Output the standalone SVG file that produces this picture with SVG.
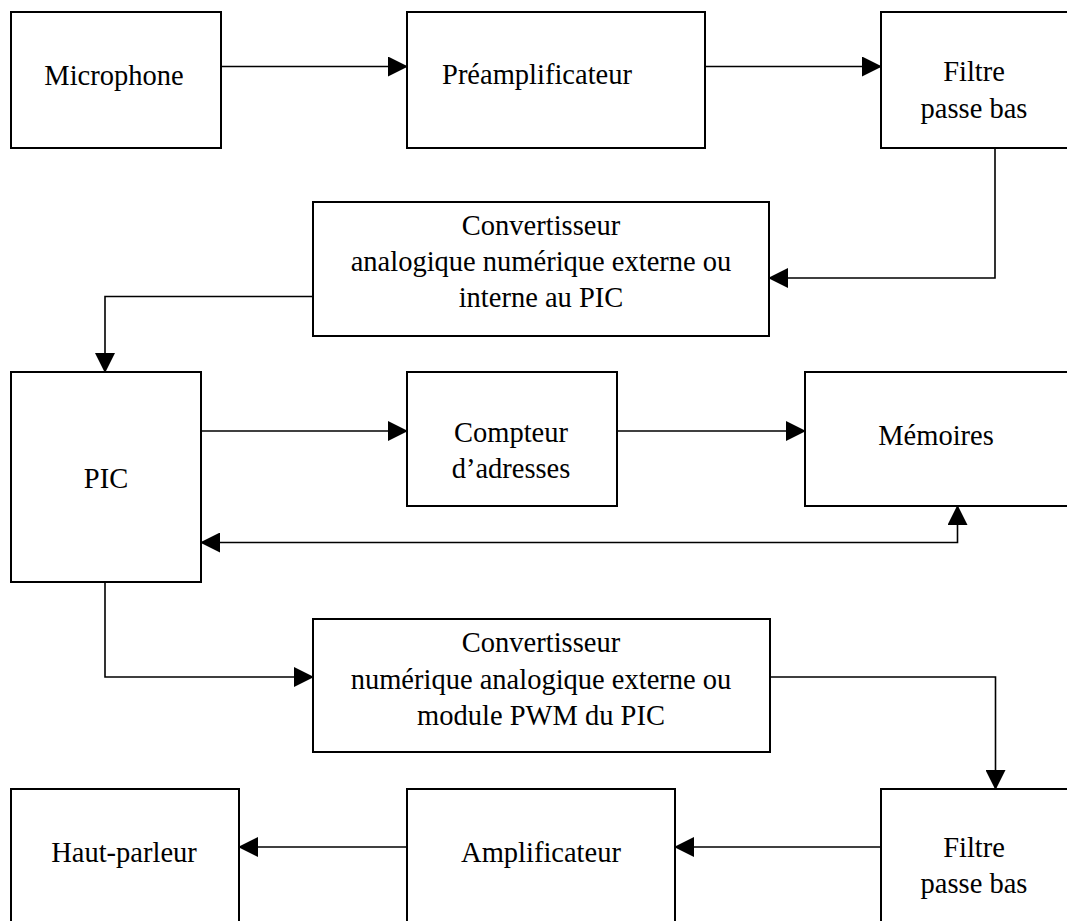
<svg xmlns="http://www.w3.org/2000/svg" width="1067" height="921" viewBox="0 0 1067 921">
  <style>
    .box { fill: #fff; stroke: #000; stroke-width: 2; }
    .lbl { font-family: "Liberation Serif", "Times New Roman", serif; font-size: 28.5px; fill: #000; text-anchor: middle; }
    .wire { fill: none; stroke: #000; stroke-width: 1.6; }
  </style>
  <defs>
    <marker id="arrow" markerUnits="userSpaceOnUse" markerWidth="20" markerHeight="20" refX="19" refY="10" orient="auto-start-reverse" viewBox="0 0 20 20">
      <path d="M0,0 L20,10 L0,20 Z" fill="#000"/>
    </marker>
  </defs>
  <rect width="1067" height="921" fill="#fff"/>

  <!-- Chain: acquisition -->
  <g id="microphone">
    <rect class="box" x="11" y="12" width="210" height="136"/>
    <text class="lbl" x="114" y="85">Microphone</text>
  </g>
  <g id="preamplificateur">
    <rect class="box" x="407" y="12" width="298" height="136"/>
    <text class="lbl" x="537" y="84">Préamplificateur</text>
  </g>
  <g id="filtre-entree">
    <rect class="box" x="881" y="12" width="200" height="136"/>
    <text class="lbl" x="974" y="81">Filtre</text>
    <text class="lbl" x="974" y="118">passe bas</text>
  </g>
  <g id="can">
    <rect class="box" x="313" y="202" width="456" height="134"/>
    <text class="lbl" x="541" y="235">Convertisseur</text>
    <text class="lbl" x="541" y="271">analogique numérique externe ou</text>
    <text class="lbl" x="541" y="307">interne au PIC</text>
  </g>

  <!-- Processing -->
  <g id="pic">
    <rect class="box" x="11" y="372" width="190" height="210"/>
    <text class="lbl" x="106" y="488">PIC</text>
  </g>
  <g id="compteur">
    <rect class="box" x="407" y="372" width="210" height="134"/>
    <text class="lbl" x="511" y="442">Compteur</text>
    <text class="lbl" x="511" y="478">d’adresses</text>
  </g>
  <g id="memoires">
    <rect class="box" x="805" y="372" width="280" height="134"/>
    <text class="lbl" x="936" y="445">Mémoires</text>
  </g>

  <!-- Chain: restitution -->
  <g id="cna">
    <rect class="box" x="313" y="619" width="457" height="133"/>
    <text class="lbl" x="541" y="652">Convertisseur</text>
    <text class="lbl" x="541" y="689">numérique analogique externe ou</text>
    <text class="lbl" x="541" y="725">module PWM du PIC</text>
  </g>
  <g id="haut-parleur">
    <rect class="box" x="11" y="789" width="228" height="150"/>
    <text class="lbl" x="124" y="862">Haut-parleur</text>
  </g>
  <g id="amplificateur">
    <rect class="box" x="407" y="789" width="268" height="150"/>
    <text class="lbl" x="541" y="862">Amplificateur</text>
  </g>
  <g id="filtre-sortie">
    <rect class="box" x="881" y="789" width="200" height="150"/>
    <text class="lbl" x="974" y="857">Filtre</text>
    <text class="lbl" x="974" y="893">passe bas</text>
  </g>

  <g id="connectors">
    <path class="wire" d="M221,66.5 H407" marker-end="url(#arrow)"/>
    <path class="wire" d="M705,66.5 H881" marker-end="url(#arrow)"/>
    <path class="wire" d="M995,148 V278 H769" marker-end="url(#arrow)"/>
    <path class="wire" d="M313,296.5 H105 V372" marker-end="url(#arrow)"/>
    <path class="wire" d="M201,431 H407" marker-end="url(#arrow)"/>
    <path class="wire" d="M617,431 H805" marker-end="url(#arrow)"/>
    <path class="wire" d="M201,542.5 H957.5 V506" marker-start="url(#arrow)" marker-end="url(#arrow)"/>
    <path class="wire" d="M105,582 V677 H313" marker-end="url(#arrow)"/>
    <path class="wire" d="M770,677 H995.5 V789" marker-end="url(#arrow)"/>
    <path class="wire" d="M881,847 H675" marker-end="url(#arrow)"/>
    <path class="wire" d="M407,847 H239" marker-end="url(#arrow)"/>
  </g>
</svg>
